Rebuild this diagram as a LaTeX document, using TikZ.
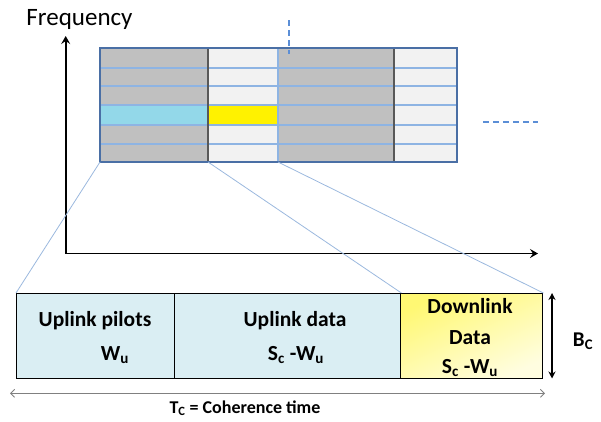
\documentclass[tikz,border=0pt]{standalone}
\usepackage{fontspec}
\setmainfont{Carlito}
\usetikzlibrary{arrows.meta}

\definecolor{cellgray}{HTML}{C0C0C0}
\definecolor{celllight}{HTML}{F2F2F2}
\definecolor{pilotcyan}{HTML}{93D8E9}
\definecolor{datayellow}{HTML}{FFF200}
\definecolor{gridblue}{HTML}{8EB4E3}
\definecolor{frameblue}{HTML}{4A6FA5}
\definecolor{boxblue}{HTML}{DAEEF3}
\definecolor{dashblue}{HTML}{5B8ED6}
\definecolor{projblue}{HTML}{9BB8DE}
\definecolor{tcgray}{HTML}{808080}

\newcommand\lowidx[1]{\textsubscript{#1}}

\tikzset{
  gridline/.style={gridblue, line width=1.1pt},
  colsep/.style={black!65, line width=1.1pt},
  slot/.style={draw=black, line width=1.4pt, anchor=north west, inner sep=0pt, minimum height=85pt},
  proj/.style={projblue, line width=0.8pt},
  axisline/.style={black, line width=1.7pt, -{Stealth[length=8pt,width=9pt,inset=3pt]}},
  dashmark/.style={dashblue, line width=1.6pt, dash pattern=on 6pt off 4pt},
  boxtext/.style={font=\fontsize{21.5pt}{24pt}\selectfont\bfseries, inner sep=0pt},
}

\begin{document}
\begin{tikzpicture}[x=1pt,y=-1pt]
\useasboundingbox (0,0) rectangle (601,421);

% time-frequency grid of resource blocks
\fill[cellgray]  (100,48) rectangle (208,162);
\fill[celllight] (208,48) rectangle (278,162);
\fill[cellgray]  (278,48) rectangle (394,162);
\fill[celllight] (394,48) rectangle (457,162);
\fill[pilotcyan]  (100,105) rectangle (208,125);
\fill[datayellow] (208,105) rectangle (278,125);
\foreach \y in {68,86,105,125,144}
  \draw[gridline] (100,\y) -- (457,\y);
\draw[gridline] (278,48) -- (278,162);
\draw[colsep] (208,48) -- (208,162);
\draw[colsep] (394,48) -- (394,162);
\draw[frameblue, line width=1.7pt] (100,48) rectangle (457,162);

\coordinate (g0) at (100,162);
\coordinate (g1) at (208,162);
\coordinate (g2) at (278,162);

% continuation marks
\coordinate (vtop) at (289,20);
\coordinate (vbot) at (289,54);
\draw[dashmark] (vtop) -- (vbot);
\coordinate (hleft) at (483,122);
\coordinate (hright) at (538,122);
\draw[dashmark] (hleft) -- (hright);

% axes
\coordinate (origin) at (65.7,253.5);
\coordinate (ytip) at (65.7,36);
\coordinate (xtip) at (538,253.5);
\draw[axisline] (origin) -- (ytip);
\draw[axisline] (origin) -- (xtip);
\node[font=\fontsize{25pt}{28pt}\selectfont] (freq) at (79.5,19) {Frequency};

% coherence block
\node[slot, fill=boxblue, minimum width=158pt] (pilots) at (16,293) {};
\node[slot, fill=boxblue, minimum width=226pt] (updata) at (174,293) {};
\node[slot, top color=datayellow!55, bottom color=datayellow!12, shading angle=25, minimum width=142pt] (down) at (400,293) {};

\draw[proj] (g0) -- (pilots.north west);
\draw[proj] (g1) -- (updata.north east);
\draw[proj] (g2) -- (down.north east);

\node[boxtext] (t1) at (95,321) {Uplink pilots};
\node[boxtext] (t2) at (115,355) {W\lowidx{u}};
\node[boxtext] (t3) at (295,321) {Uplink data};
\node[boxtext] (t4) at (296,355) {S\lowidx{c} -W\lowidx{u}};
\node[boxtext] (t5) at (470,306.5) {Downlink};
\node[boxtext] (t6) at (470,338) {Data};
\node[boxtext] (t7) at (470,368) {S\lowidx{c} -W\lowidx{u}};

% bandwidth and time extents
\coordinate (bctop) at (552,293);
\coordinate (bcbot) at (552,378.5);
\draw[line width=1.3pt, {Stealth[length=7pt,width=7pt]}-{Stealth[length=7pt,width=7pt]}] (bctop) -- (bcbot);
\node[boxtext, font=\fontsize{21pt}{24pt}\selectfont\bfseries] (bc) at (583,341) {B\lowidx{C}};

\coordinate (tcleft) at (10,393.3);
\coordinate (tcright) at (545,393.3);
\draw[tcgray, line width=0.9pt, {Straight Barb[length=4pt,width=8pt]}-{Straight Barb[length=4pt,width=8pt]}] (tcleft) -- (tcright);
\node[font=\fontsize{18pt}{20pt}\selectfont\bfseries, inner sep=0pt] (tc) at (245,408) {T\lowidx{C} = Coherence time};
\end{tikzpicture}
\end{document}
